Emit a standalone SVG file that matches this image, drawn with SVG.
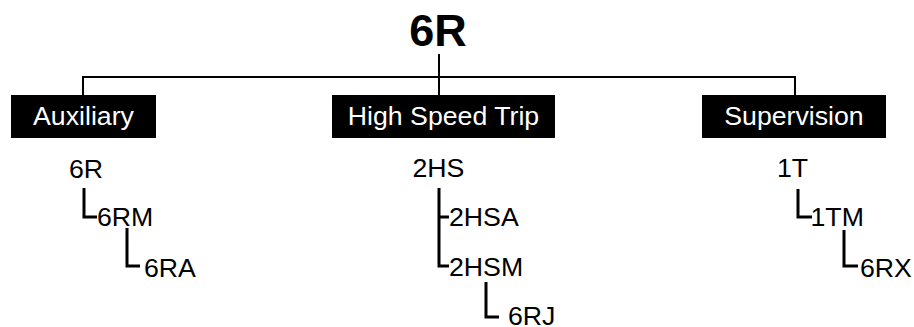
<svg xmlns="http://www.w3.org/2000/svg" width="914" height="327" viewBox="0 0 914 327">
<style>
text{font-family:"Liberation Sans",Arial,sans-serif;fill:#000}
.title{font-size:45px;font-weight:bold;text-anchor:middle}
.box{fill:#000}
.hdr{font-size:26.7px;fill:#fff;text-anchor:middle}
.lbl{font-size:26.7px}
.main{fill:none;stroke:#000;stroke-width:2}
.sub{fill:none;stroke:#000;stroke-width:3}
</style>
<rect width="914" height="327" fill="#fff"/>
<g id="connectors">
<path class="main" d="M439 54V95M83 95V77H795V95"/>
<path class="sub" d="M84 188V217H97M127 228V266H140"/>
<path class="sub" d="M439 188V266H449M439 217H449M486 282V317H499"/>
<path class="sub" d="M798 189V217H812M844 230V266H858"/>
</g>
<g id="root"><text class="title" x="438" y="46">6R</text></g>
<g id="auxiliary"><rect class="box" x="11" y="95" width="145" height="43"/><text class="hdr" x="83.5" y="125">Auxiliary</text></g>
<g id="hst"><rect class="box" x="332" y="95" width="223" height="43"/><text class="hdr" x="443.5" y="125">High Speed Trip</text></g>
<g id="supervision"><rect class="box" x="702" y="95" width="184" height="43"/><text class="hdr" x="794" y="125">Supervision</text></g>
<g id="n6R"><text class="lbl" x="69" y="178">6R</text></g>
<g id="n6RM"><text class="lbl" x="97" y="226">6RM</text></g>
<g id="n6RA"><text class="lbl" x="144" y="277">6RA</text></g>
<g id="n2HS"><text class="lbl" x="412.5" y="177">2HS</text></g>
<g id="n2HSA"><text class="lbl" x="449" y="226">2HSA</text></g>
<g id="n2HSM"><text class="lbl" x="449" y="276">2HSM</text></g>
<g id="n6RJ"><text class="lbl" x="508" y="325">6RJ</text></g>
<g id="n1T"><text class="lbl" x="777" y="177">1T</text></g>
<g id="n1TM"><text class="lbl" x="810.5" y="226">1TM</text></g>
<g id="n6RX"><text class="lbl" x="860" y="277">6RX</text></g>
</svg>
